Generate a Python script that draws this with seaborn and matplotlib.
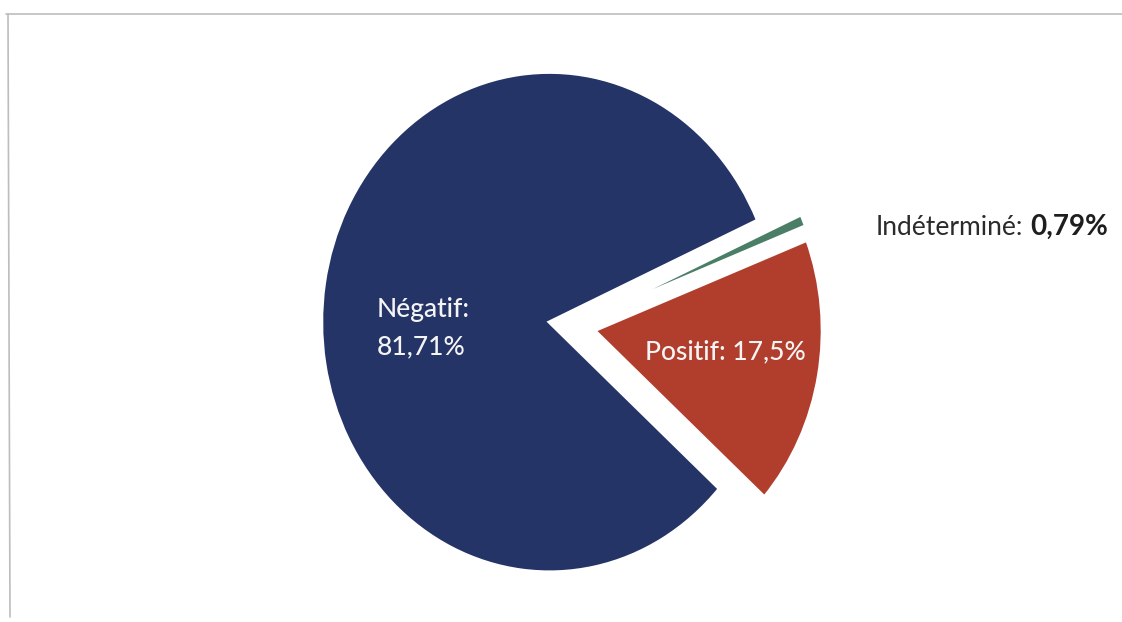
import matplotlib
matplotlib.use("Agg")
import matplotlib.pyplot as plt
from matplotlib.lines import Line2D
import seaborn as sns

# Résultats des tests
categories = ["Négatif", "Indéterminé", "Positif"]
values = [81.71, 0.79, 17.5]
value_labels = ["81,71%", "0,79%", "17,5%"]
colors = ["#243466", "#4B7E66", "#B13E2C"]

sns.set_theme(style="white")
plt.rcParams["font.family"] = ["Lato", "DejaVu Sans"]

W, H = 1122, 622
fig = plt.figure(figsize=(W / 100, H / 100), dpi=100)
fig.patch.set_facecolor("white")
ax = fig.add_axes([0, 0, 1, 1])

# pie centre and radii in pixels (slightly taller than wide)
cx, cy, rx, ry = 572, 326, 228, 250

wedges, _ = ax.pie(
    values,
    colors=colors,
    startangle=-41.8,
    counterclock=False,
    explode=[0.1, 0.1, 0.1],
    wedgeprops=dict(edgecolor="white", linewidth=2.5),
)
ax.set_aspect("auto")
ax.set_xlim(-cx / rx, (W - cx) / rx)
ax.set_ylim(-(H - cy) / ry, cy / ry)
ax.axis("off")


def px(x, y):
    return (x - cx) / rx, (cy - y) / ry


label_font = dict(fontsize=19, fontweight="medium", color="#f4f4f4",
                  ha="left", va="baseline")
ax.text(*px(377, 317), f"{categories[0]}:", **label_font)
ax.text(*px(377, 354), value_labels[0], **label_font)
ax.text(*px(645, 359), f"{categories[2]}: {value_labels[2]}", **label_font)

# outside label: category name, then its value in bold right after it
name = ax.text(*px(876, 235), f"{categories[1]}:", fontsize=19,
               color="#2b2b2b", ha="left", va="baseline")
fig.canvas.draw()
bb = name.get_window_extent()
ax.annotate(value_labels[1], xy=(bb.x1, 0), xycoords="figure pixels",
            xytext=(7, 0), textcoords="offset pixels",
            fontsize=20, fontweight="bold", color="#1e1e1e",
            ha="left", va="baseline",
            annotation_clip=False)
# keep the value on the same baseline as the name
val = ax.texts[-1]
val.xy = (bb.x1, H - 235)

# thin frame around the chart
fig.add_artist(Line2D([6 / W, 1.0], [1 - 14 / H, 1 - 14 / H],
                      transform=fig.transFigure, color="#bdbdbd", lw=1.2))
fig.add_artist(Line2D([8 / W, 10 / W], [1 - 14 / H, 1 - 617 / H],
                      transform=fig.transFigure, color="#bdbdbd", lw=1.2))

fig.savefig("out.png", dpi=100, facecolor="white")
